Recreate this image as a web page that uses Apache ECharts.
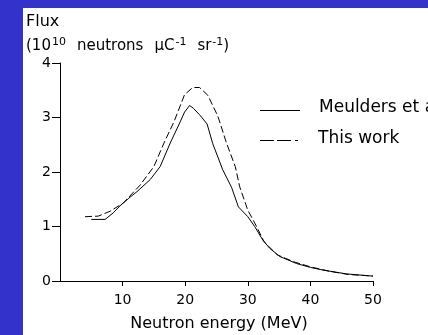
<!DOCTYPE html>
<html>
<head>
<meta charset="utf-8">
<script src="https://cdn.jsdelivr.net/npm/echarts@6/dist/echarts.min.js"></script>
<style>
html,body{margin:0;padding:0;background:#3333cc;}
#c{width:428px;height:335px;}
</style>
</head>
<body>
<div id="c"></div>
<script>
// Data
const seriesNames = ['Meulders et al.', 'This work'];
const meulders = [[5,1.13],[7.2,1.13],[8.5,1.25],[9.6,1.38],[11,1.52],[12.3,1.64],[14.4,1.86],[16,2.1],[17.6,2.53],[19.2,2.92],[19.9,3.1],[20.7,3.22],[21.3,3.17],[22.3,3.05],[23.5,2.88],[24.4,2.52],[26,2.04],[27.4,1.72],[28.5,1.36],[30,1.18],[31.1,1.0],[32.4,0.75],[33.5,0.6],[35.1,0.45],[37.8,0.32],[40,0.25],[42,0.2],[45.8,0.13],[50,0.09]];
const thisWork = [[4,1.18],[6.1,1.19],[8,1.28],[10.1,1.43],[12.8,1.76],[15,2.1],[16.6,2.53],[18.2,2.92],[19.9,3.42],[21.2,3.55],[22.3,3.55],[23.6,3.41],[25.2,3.03],[26.6,2.53],[28,2.1],[28.7,1.73],[30,1.3],[31.4,1.0],[32.6,0.72],[34.7,0.48],[37.4,0.35],[40,0.26],[43,0.18],[46,0.12],[50,0.09]];
const xTicks = [10,20,30,40,50];
const yTicks = [0,1,2,3,4];
const yTitle1 = 'Flux';
const xTitle = 'Neutron energy (MeV)';

const FONT = 'DejaVu Sans';
const chart = echarts.init(document.getElementById('c'), null, {renderer:'canvas'});
chart.setOption({
  animation:false,
  backgroundColor:'#3333cc',
  grid:{left:60, top:63, right:55, bottom:54, containLabel:false, outerBoundsMode:'none'},
  xAxis:{
    type:'value', min:0, max:50, interval:10,
    axisLine:{lineStyle:{color:'#000', width:1}},
    axisTick:{show:true, length:5, lineStyle:{color:'#000'}, customValues:xTicks},
    axisLabel:{color:'#000', fontFamily:FONT, fontSize:14, margin:12, customValues:xTicks},
    splitLine:{show:false},
    name:xTitle, nameLocation:'middle', nameGap:35,
    nameTextStyle:{color:'#000', fontFamily:FONT, fontSize:16, padding:[0,0,0,5]}
  },
  yAxis:{
    type:'value', min:0, max:4, interval:1,
    axisLine:{show:true, lineStyle:{color:'#000', width:1}},
    axisTick:{show:true, length:8, lineStyle:{color:'#000'}},
    axisLabel:{color:'#000', fontFamily:FONT, fontSize:14, margin:9},
    splitLine:{show:false}
  },
  graphic:[
    {type:'rect', z:-10, shape:{x:23, y:8, width:405, height:327}, style:{fill:'#fff'}},
    {type:'text', x:26, y:22, style:{text:yTitle1, font:'16px "DejaVu Sans"', fill:'#000', verticalAlign:'middle'}},
    {type:'text', x:26, y:46, style:{
      text:'(10{s|10}{g| }neutrons{g| }\u03bcC{s|-1}{g| }sr{s|-1})',
      font:'15px "DejaVu Sans"', fill:'#000', verticalAlign:'middle',
      rich:{
        s:{fontSize:11, fontFamily:FONT, verticalAlign:'top', padding:[0,0,7,1]},
        g:{fontSize:15, fontFamily:FONT, width:11}
      }
    }},
    {type:'line', shape:{x1:260, y1:110.5, x2:300, y2:110.5}, style:{stroke:'#000', lineWidth:1}},
    {type:'text', x:319, y:108, style:{text:seriesNames[0], font:'17px "DejaVu Sans"', fill:'#000', verticalAlign:'middle'}},
    {type:'line', shape:{x1:260, y1:140.5, x2:302, y2:140.5}, style:{stroke:'#000', lineWidth:1, lineDash:[14,3,14,4,3,100]}},
    {type:'text', x:318, y:139, style:{text:seriesNames[1], font:'17px "DejaVu Sans"', fill:'#000', verticalAlign:'middle'}}
  ],
  series:[
    {name:seriesNames[0], type:'line', data:meulders, showSymbol:false, symbol:'none',
     lineStyle:{color:'#000', width:1}},
    {name:seriesNames[1], type:'line', data:thisWork, showSymbol:false, symbol:'none',
     lineStyle:{color:'#000', width:1, type:[7,3]}}
  ]
});
</script>
</body>
</html>
